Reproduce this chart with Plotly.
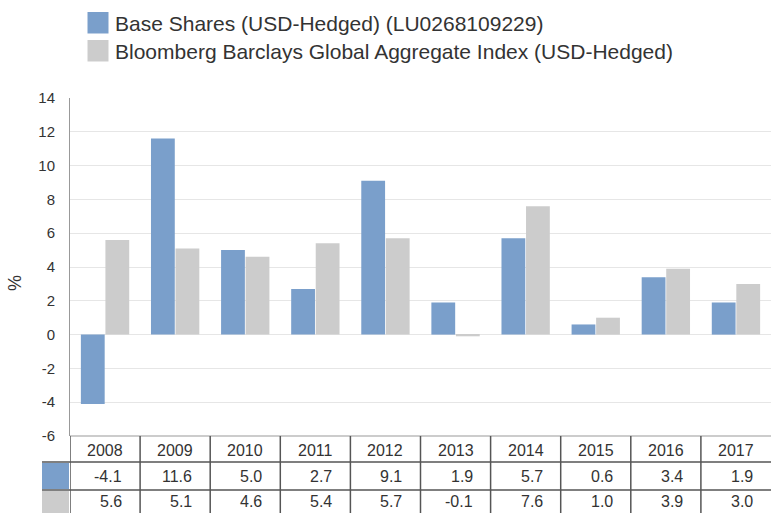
import plotly.graph_objects as go

years = ["2008", "2009", "2010", "2011", "2012", "2013", "2014", "2015", "2016", "2017"]
base_shares = [-4.1, 11.6, 5.0, 2.7, 9.1, 1.9, 5.7, 0.6, 3.4, 1.9]
index_vals = [5.6, 5.1, 4.6, 5.4, 5.7, -0.1, 7.6, 1.0, 3.9, 3.0]
series_names = ["Base Shares (USD-Hedged) (LU0268109229)",
                "Bloomberg Barclays Global Aggregate Index (USD-Hedged)"]
y_ticks = [-6, -4, -2, 0, 2, 4, 6, 8, 10, 12, 14]
y_tick_labels = ["-6", "-4", "-2", "0", "2", "4", "6", "8", "10", "12", "14"]

BLUE = "#7a9fcb"
GRAY = "#cccccc"
TXT = "#333333"
FONT = "Liberation Sans, Arial, sans-serif"

W, H = 771, 513
L, R, T, B = 70, 771, 98, 436  # plot area in pixels


def px(x):
    return (x - L) / (R - L)


def py(y):
    return (B - y) / (B - T)


fig = go.Figure()
fig.add_trace(go.Bar(x=years, y=base_shares, name=series_names[0],
                     marker=dict(color=BLUE, line=dict(width=0))))
fig.add_trace(go.Bar(x=years, y=index_vals, name=series_names[1],
                     marker=dict(color=GRAY, line=dict(width=0))))

shapes = []
annotations = []

# Legend (custom)
for i, (name, col) in enumerate(zip(series_names, [BLUE, GRAY])):
    y0, y1 = 12 + 28 * i, 33.5 + 28 * i
    shapes.append(dict(type="rect", xref="paper", yref="paper",
                       x0=px(87.5), x1=px(108.5), y0=py(y1), y1=py(y0),
                       fillcolor=col, line=dict(width=0)))
    annotations.append(dict(text=name, xref="paper", yref="paper",
                            x=px(113), y=py((y0 + y1) / 2 + 0.5), xanchor="left", yanchor="middle",
                            showarrow=False, font=dict(size=21, color=TXT, family=FONT)))

# y-axis title
annotations.append(dict(text="%", xref="paper", yref="paper", x=px(15), y=py(283),
                        textangle=-90, showarrow=False, xanchor="center", yanchor="middle",
                        font=dict(size=18, color=TXT, family=FONT)))

# Data table under the chart
row_top, row1, row2, row_bot = 436, 462, 490, 513
shapes.append(dict(type="line", xref="paper", yref="paper", x0=0, x1=1,
                   y0=py(row_top), y1=py(row_top), line=dict(color="#cccccc", width=2)))
for yy in (row1, row2):
    shapes.append(dict(type="line", xref="paper", yref="paper", x0=px(42), x1=1,
                       y0=py(yy), y1=py(yy), line=dict(color="#555555", width=1.5)))
for i in range(len(years)):
    shapes.append(dict(type="line", xref="x", yref="paper", x0=i - 0.5, x1=i - 0.5,
                       y0=py(row_top), y1=py(row_bot + 2), line=dict(color="#555555", width=1.5)))
shapes.append(dict(type="rect", xref="paper", yref="paper", x0=px(42), x1=px(69),
                   y0=py(row2 - 1), y1=py(row1 + 1), fillcolor=BLUE, line=dict(width=0)))
shapes.append(dict(type="rect", xref="paper", yref="paper", x0=px(42), x1=px(69),
                   y0=py(row_bot + 2), y1=py(row2 + 1), fillcolor=GRAY, line=dict(width=0)))

for i, yr in enumerate(years):
    annotations.append(dict(text=yr, xref="x", yref="paper", x=i, y=py((row_top + row1) / 2 + 1),
                            showarrow=False, xanchor="center", yanchor="middle",
                            font=dict(size=16, color=TXT, family=FONT)))
    for vals, (ya, yb) in ((base_shares, (row1, row2)), (index_vals, (row2, row_bot))):
        annotations.append(dict(text=f"{vals[i]:.1f}", xref="x", yref="paper", x=i,
                                xshift=19, y=py((ya + yb) / 2 + 0.5),
                                showarrow=False, xanchor="right", yanchor="middle",
                                font=dict(size=16, color=TXT, family=FONT)))

fig.update_layout(
    width=W, height=H,
    margin=dict(l=L, r=W - R, t=T, b=H - B, pad=0),
    paper_bgcolor="white", plot_bgcolor="white",
    showlegend=False,
    barmode="group", bargap=0.3, bargroupgap=0.03,
    font=dict(family=FONT, color=TXT),
    shapes=shapes, annotations=annotations,
)
fig.update_xaxes(type="category", range=[-0.5, 9.5], showticklabels=False,
                 showgrid=False, zeroline=False, showline=False, ticks="")
fig.update_yaxes(range=[-6, 14], tickvals=y_ticks, ticktext=y_tick_labels,
                 showgrid=True, gridcolor="#e6e6e6",
                 gridwidth=1, zeroline=True, zerolinecolor="#e6e6e6", zerolinewidth=1,
                 showline=True, linecolor="#999999", linewidth=1, ticks="",
                 ticklabelstandoff=11, tickfont=dict(size=15, color=TXT, family=FONT))

fig.write_html("out.html", config={"displayModeBar": False})

# remove the default page margin so the figure sits at the window's top-left corner
with open("out.html", "r", encoding="utf-8") as f:
    html = f.read()
html = html.replace("<head>", "<head><style>html,body{margin:0;padding:0;overflow:hidden;}</style>", 1)
with open("out.html", "w", encoding="utf-8") as f:
    f.write(html)
